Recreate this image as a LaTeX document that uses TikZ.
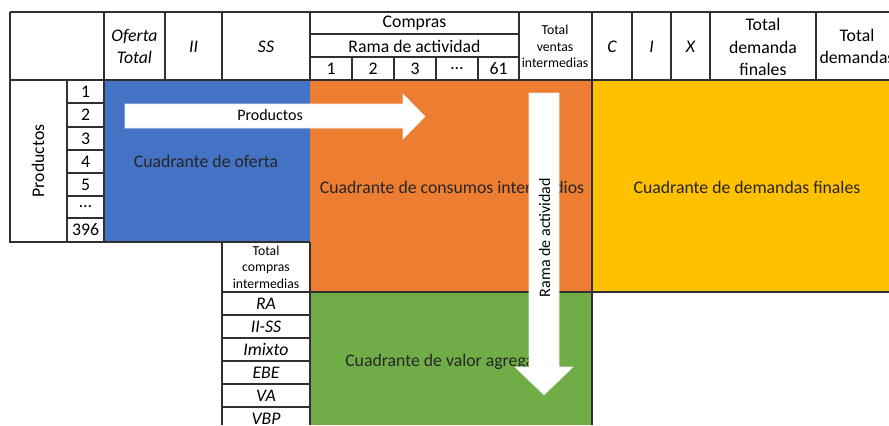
\documentclass[tikz,border=0pt]{standalone}
\usepackage{fontspec}
\setmainfont{Carlito}
\definecolor{azul}{HTML}{4472C4}
\definecolor{naranja}{HTML}{ED7D31}
\definecolor{amarillo}{HTML}{FFC000}
\definecolor{verde}{HTML}{70AD47}
\definecolor{linea}{HTML}{303030}
\begin{document}
\begin{tikzpicture}[x=0.75pt,y=-0.75pt,
    font=\fontsize{13.3}{17}\selectfont,
    rejilla/.style={draw=linea, line width=1pt},
    celda/.style={inner sep=0pt, align=center},
    chica/.style={celda, font=\fontsize{10.3}{12.4}\selectfont},
    cuadrante/.style={inner sep=0pt, text=black!85},
    flecha/.style={fill=white, draw=white!85!gray, line width=0.4pt}]
    \useasboundingbox (0,0) rectangle (889,425);
    \clip (0,0) rectangle (889,425);

    % cuadrantes
    \fill[azul] (104,80) rectangle (310,242);
    \fill[naranja] (310,80) rectangle (592,292);
    \fill[amarillo] (592,80) rectangle (889,292);
    \fill[verde] (310,292) rectangle (592,425);

    % rejilla
    \draw[rejilla] (10,12) -- (889,12);
    \draw[rejilla] (10,80) -- (889,80);
    \draw[rejilla] (10,12) -- (10,242) -- (310,242);
    \draw[rejilla] (310,34) -- (519,34);
    \draw[rejilla] (310,57) -- (519,57);
    \foreach \x in {104,165,222,310,519,592,632,671,710,816}
      \draw[rejilla] (\x,12) -- (\x,80);
    \foreach \x in {352,394,436,478}
      \draw[rejilla] (\x,57) -- (\x,80);
    \draw[rejilla] (67,80) -- (67,242);
    \draw[rejilla] (104,80) -- (104,242);
    \foreach \y in {103,127,150,173,196,218}
      \draw[rejilla] (67,\y) -- (104,\y);
    \draw[rejilla] (222,242) -- (222,425);
    \draw[rejilla] (310,242) -- (310,425);
    \foreach \y in {315,338,361,384,407}
      \draw[rejilla] (222,\y) -- (310,\y);
    \draw[rejilla] (222,292) -- (889,292);
    \draw[rejilla] (592,80) -- (592,425);

    % encabezado
    \node[celda] (ofertatotal) at (134.5,46.5) {\itshape Oferta\\\itshape Total};
    \node[celda] (ii) at (193.5,46.5) {\itshape II};
    \node[celda] (ss) at (266,46.5) {\itshape SS};
    \node[celda] (compras) at (414.5,23) {Compras};
    \node[celda] (rama) at (414.5,46) {Rama de actividad};
    \foreach \x/\num [count=\k] in {331/1, 373/2, 415/3, 457/{\dots}, 498.5/61}
      \node[celda] (col\k) at (\x,69) {\num};
    \node[chica] (ventas) at (555,46.5) {Total\\ventas\\intermedias};
    \node[celda] (c) at (612,46.5) {\itshape C};
    \node[celda] (i) at (651.5,46.5) {\itshape I};
    \node[celda] (x) at (690.5,46.5) {\itshape X};
    \node[celda] (demfinal) at (763,47) {Total\\demanda\\finales};
    \node[celda] (demtotal) at (857,46.5) {Total\\demandas};

    % filas de productos
    \node[celda, rotate=90] (productos) at (38,161) {Productos};
    \foreach \y/\num [count=\k] in {91.5/1, 115/2, 138.5/3, 161.5/4, 184.5/5, 207/{\dots}, 230/396}
      \node[celda] (fila\k) at (85.5,\y) {\num};

    % filas de valor agregado
    \node[chica] (totcompras) at (266,267) {Total\\compras\\intermedias};
    \foreach \y/\nom in {303.5/RA, 326.5/II-SS, 349.5/Imixto, 372.5/EBE, 395.5/VA, 418.5/VBP}
      \node[celda] (\nom) at (266,\y) {\itshape \nom};

    % etiquetas de cuadrantes
    \node[cuadrante] (oferta) at (206,161) {Cuadrante de oferta};
    \node[cuadrante] (consumos) at (452,187) {Cuadrante de consumos intermedios};
    \node[cuadrante] (demandas) at (747,187) {Cuadrante de demandas finales};
    \node[cuadrante, anchor=west] (valor) at (345,362) {Cuadrante de valor agregado};

    % flechas
    \filldraw[flecha] (125,104) -- (403,104) -- (403,94) -- (425,116.5)
      -- (403,139) -- (403,128) -- (125,128) -- cycle;
    \node[celda, font=\fontsize{12}{14}\selectfont] (flechaprod) at (270,115.5) {Productos};
    \filldraw[flecha] (529,93) -- (559,93) -- (559,367) -- (573,367)
      -- (544,395) -- (515,367) -- (529,367) -- cycle;
    \node[celda, rotate=90, font=\fontsize{12}{14}\selectfont] (flecharama) at (544.5,237.5) {Rama de actividad};
\end{tikzpicture}
\end{document}
